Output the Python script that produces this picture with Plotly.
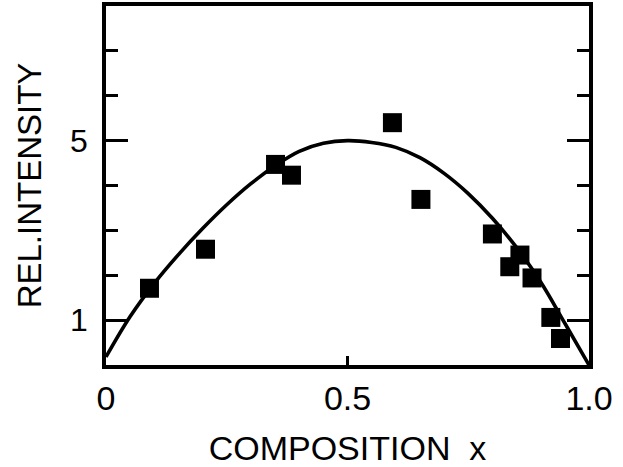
import plotly.graph_objects as go

# measured data points (composition x, relative intensity)
data_x = [0.090, 0.206, 0.351, 0.384, 0.593, 0.652, 0.800, 0.836, 0.857, 0.882, 0.921, 0.941]
data_y = [1.71, 2.58, 4.47, 4.23, 5.40, 3.69, 2.92, 2.19, 2.45, 1.94, 1.06, 0.59]

# fitted curve
curve_x = [0.0, 0.05, 0.1, 0.15, 0.2, 0.25, 0.3, 0.35, 0.4, 0.45, 0.5,
           0.55, 0.6, 0.65, 0.7, 0.75, 0.8, 0.85, 0.9, 0.95, 1.0]
curve_y = [0.18, 1.08, 1.82, 2.46, 3.04, 3.57, 4.04, 4.44, 4.76, 4.94, 5.0,
           4.96, 4.85, 4.62, 4.27, 3.82, 3.27, 2.62, 1.85, 0.93, 0.0]

x_ticks = [0, 0.5, 1.0]
x_ticktext = ["0", "0.5", "1.0"]
y_ticks = [1, 5]
y_minor = [2, 3, 4, 6, 7]

FONT = "Liberation Sans"

fig = go.Figure()
fig.add_trace(go.Scatter(x=curve_x, y=curve_y, mode="lines",
                         line=dict(color="black", width=3.6, shape="spline", smoothing=1.0),
                         hoverinfo="skip", showlegend=False))
fig.add_trace(go.Scatter(x=data_x, y=data_y, mode="markers",
                         marker=dict(symbol="square", size=19, color="black"),
                         showlegend=False))

fig.update_layout(
    width=623, height=467,
    margin=dict(l=106, r=34, t=6, b=102, autoexpand=False),
    paper_bgcolor="white", plot_bgcolor="white",
    font=dict(family=FONT, color="black"),
)
fig.update_xaxes(
    range=[0, 1.0], tickvals=x_ticks, ticktext=x_ticktext,
    ticks="inside", ticklen=9, tickwidth=3, tickcolor="black",
    showline=True, linecolor="black", linewidth=3.5, mirror=True,
    showgrid=False, zeroline=False, automargin=False,
    tickfont=dict(size=34, family=FONT), ticklabelstandoff=0,
    title=dict(text="COMPOSITION  x", font=dict(size=34, family=FONT), standoff=22),
)
fig.update_yaxes(
    range=[0, 8], tickvals=y_ticks,
    ticks="inside", ticklen=22, tickwidth=3, tickcolor="black",
    minor=dict(tickvals=y_minor, ticks="inside", ticklen=12, tickwidth=3, tickcolor="black"),
    showline=True, linecolor="black", linewidth=3.5, mirror="ticks",
    showgrid=False, zeroline=False, automargin=False,
    tickfont=dict(size=32, family=FONT), ticklabelstandoff=8,
    title=dict(text="REL.INTENSITY", font=dict(size=33, family=FONT), standoff=20),
)

fig.write_html("out.html", config={"displayModeBar": False},
               post_script="document.body.style.margin='0';")
